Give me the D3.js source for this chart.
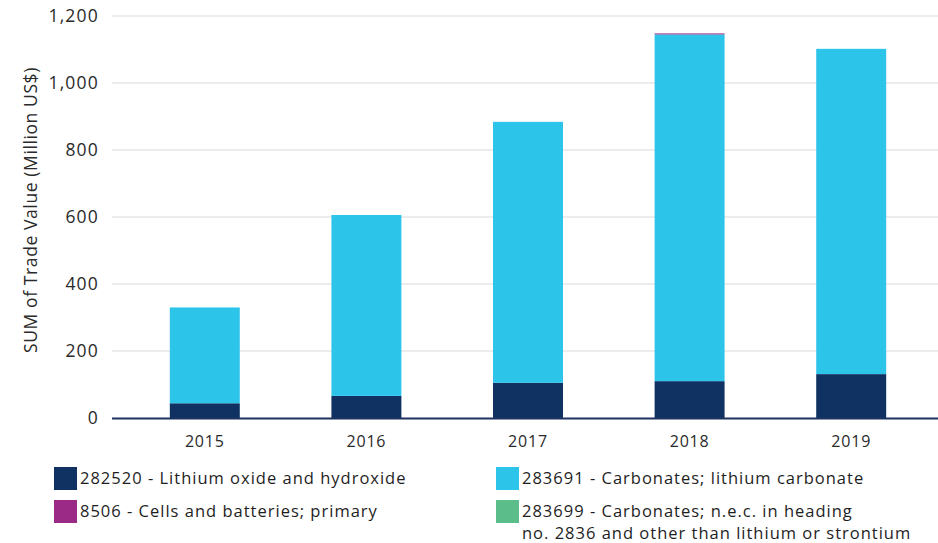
<!DOCTYPE html>
<html>
<head>
<meta charset="utf-8">
<script src="https://cdn.jsdelivr.net/npm/d3@7"></script>
<style>
  html, body { margin: 0; padding: 0; background: #fff; }
  svg { display: block; font-family: "Open Sans", Lato, sans-serif; }
</style>
</head>
<body>
<svg id="chart" width="938" height="543"></svg>
<script>
// Trade value by HS code, million US$
const years = ["2015", "2016", "2017", "2018", "2019"];
const hydroxide = [44, 66, 105, 110, 131];        // 282520
const carbonate = [286, 540, 779, 1035, 971];     // 283691
const batteries = [0, 0, 0, 3, 0];                // 8506
const carbonatesNec = [0, 0, 0, 0, 0];            // 283699
const yTicks = [0, 200, 400, 600, 800, 1000, 1200];

const seriesKeys = ["hydroxide", "carbonate", "batteries", "carbonatesNec"];
const seriesLabels = {
  hydroxide: ["282520 - Lithium oxide and hydroxide"],
  carbonate: ["283691 - Carbonates; lithium carbonate"],
  batteries: ["8506 - Cells and batteries; primary"],
  carbonatesNec: ["283699 - Carbonates; n.e.c. in heading", "no. 2836 and other than lithium or strontium"]
};
const colors = {
  hydroxide: "#0f3262",
  carbonate: "#2dc4ea",
  batteries: "#9b2a86",
  carbonatesNec: "#5bbd8a"
};

const rows = years.map((y, i) => ({
  year: y,
  hydroxide: hydroxide[i],
  carbonate: carbonate[i],
  batteries: batteries[i],
  carbonatesNec: carbonatesNec[i]
}));

const svg = d3.select("#chart");
const gridLeft = 112, gridRight = 938;

const x = d3.scaleBand().domain(years).range([124, 932])
  .paddingInner(0.567).paddingOuter(0.2835);
const y = d3.scaleLinear().domain([0, 1200]).range([418, 16]);

// Gridlines
svg.append("g")
  .selectAll("line")
  .data(yTicks.filter(d => d > 0))
  .join("line")
  .attr("x1", gridLeft).attr("x2", gridRight)
  .attr("y1", d => y(d)).attr("y2", d => y(d))
  .attr("stroke", "#d9d9d9").attr("stroke-width", 1);

// Y axis labels
const yAxis = d3.axisLeft(y).tickValues(yTicks).tickFormat(d3.format(",")).tickSize(0).tickPadding(0);
const gy = svg.append("g").attr("transform", "translate(99,0)").call(yAxis);
gy.select(".domain").remove();
gy.selectAll("text").attr("font-size", 17.5).attr("fill", "#2a2a2a")
  .attr("letter-spacing", 1.2)
  .attr("font-family", "'Open Sans', sans-serif");

// Stacked bars
const stack = d3.stack().keys(seriesKeys);
const layers = stack(rows);
svg.append("g")
  .selectAll("g")
  .data(layers)
  .join("g")
  .attr("fill", d => colors[d.key])
  .selectAll("rect")
  .data(d => d)
  .join("rect")
  .attr("x", d => x(d.data.year))
  .attr("width", x.bandwidth())
  .attr("y", d => y(d[1]))
  .attr("height", d => y(d[0]) - y(d[1]));

// Baseline
svg.append("line")
  .attr("x1", gridLeft).attr("x2", gridRight)
  .attr("y1", y(0) + 0.5).attr("y2", y(0) + 0.5)
  .attr("stroke", "#1c3260").attr("stroke-width", 2);

// X axis labels
const xAxis = d3.axisBottom(x).tickSize(0).tickPadding(0);
const gx = svg.append("g").attr("transform", "translate(0,436)").call(xAxis);
gx.select(".domain").remove();
gx.selectAll("text").attr("font-size", 16).attr("fill", "#2a2a2a")
  .attr("letter-spacing", 0.8)
  .attr("font-family", "'Open Sans', sans-serif").attr("dy", "0.71em");

// Y axis title
svg.append("text")
  .attr("transform", "translate(37,210) rotate(-90)")
  .attr("text-anchor", "middle")
  .attr("font-size", 17.5)
  .attr("letter-spacing", 0.6)
  .attr("fill", "#2a2a2a")
  .text("SUM of Trade Value (Million US$)");

// Legend: swatch plus one text element per label line
const legendPos = [
  { key: "hydroxide", x: 54, y: 467 },
  { key: "carbonate", x: 496, y: 467 },
  { key: "batteries", x: 54, y: 500 },
  { key: "carbonatesNec", x: 496, y: 500 }
];
const lg = svg.append("g").selectAll("g").data(legendPos).join("g")
  .attr("transform", d => `translate(${d.x},${d.y})`);
lg.append("rect").attr("width", 23).attr("height", 23).attr("fill", d => colors[d.key]);
lg.selectAll("text")
  .data(d => seriesLabels[d.key])
  .join("text")
  .attr("x", 26)
  .attr("y", (d, i) => 17 + i * 22)
  .attr("font-size", 16.5).attr("letter-spacing", 1).attr("fill", "#1e1e1e")
  .text(d => d);
</script>
</body>
</html>
